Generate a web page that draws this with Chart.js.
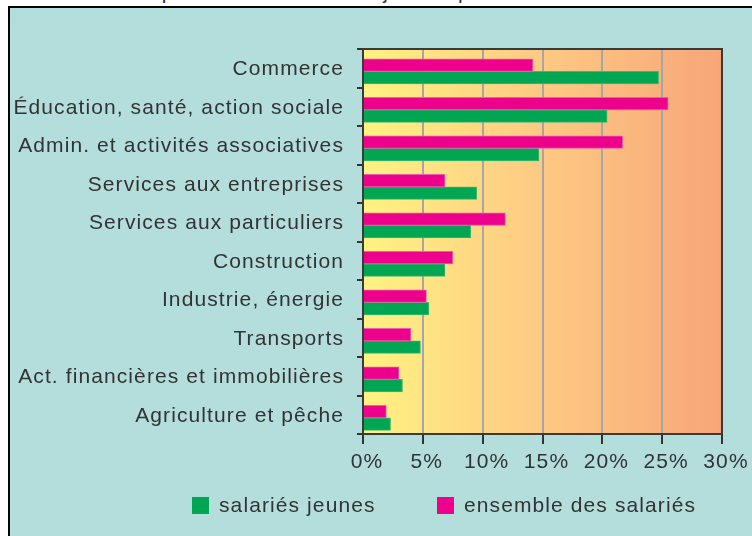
<!DOCTYPE html>
<html><head><meta charset="utf-8">
<script src="https://cdn.jsdelivr.net/npm/chart.js@4"></script>
<style>
html,body{margin:0;padding:0;background:#fff;}
body{width:752px;height:536px;position:relative;overflow:hidden;font-family:"Liberation Sans",Arial,sans-serif;}
#title{position:absolute;left:0;top:0;width:752px;height:6px;overflow:hidden;}
#title span{position:absolute;left:133px;top:-20px;font-size:21px;line-height:24px;color:#333;white-space:nowrap;letter-spacing:1px;}
#panel{position:absolute;left:8px;top:6px;right:-10px;bottom:-10px;background:#b3dedb;border-left:2px solid #000;border-top:2px solid #000;}
canvas{position:absolute;left:0;top:0;}
</style></head><body>
<div id="title"><span>Répartition des salariés jeunes par secteur d'activité</span></div>
<div id="panel"></div>
<canvas id="c" width="752" height="536"></canvas>
<script>
const categories = ['Commerce','Éducation, santé, action sociale','Admin. et activités associatives','Services aux entreprises','Services aux particuliers','Construction','Industrie, énergie','Transports','Act. financières et immobilières','Agriculture et pêche'];
const jeunes   = [24.7, 20.4, 14.7, 9.5, 9.0, 6.85, 5.5, 4.8, 3.3, 2.3];
const ensemble = [14.2, 25.5, 21.7, 6.85, 11.9, 7.5, 5.3, 4.0, 3.0, 1.95];
const xTicks = [0, 5, 10, 15, 20, 25, 30];
const seriesNames = ['salariés jeunes', 'ensemble des salariés'];

const FONT = '"Liberation Sans", Arial, sans-serif';
const LS = '1.1px';
const GREEN = '#00a651', PINK = '#ec008c';
const BAR_SHIFT = 0.08; // bars sit slightly below category centre

const spacing = {
  id:'spacing',
  beforeLayout(chart){ chart.ctx.letterSpacing = LS; },
  beforeDraw(chart){
    const ctx = chart.ctx; ctx.letterSpacing = LS;
    const a = chart.chartArea;
    const g = ctx.createLinearGradient(a.left,0,a.right,0);
    g.addColorStop(0,'#fff381'); g.addColorStop(0.45,'#fecd84'); g.addColorStop(1,'#f7a578');
    ctx.save(); ctx.fillStyle = g; ctx.fillRect(a.left,a.top,a.right-a.left,a.bottom-a.top); ctx.restore();
  },
  afterDatasetsDraw(chart){
    const ctx = chart.ctx, a = chart.chartArea;
    ctx.save(); ctx.strokeStyle = '#3a3a3a'; ctx.lineWidth = 2;
    ctx.strokeRect(a.left, a.top, a.right-a.left, a.bottom-a.top); ctx.restore();
  },
  afterDraw(chart){
    const ctx = chart.ctx;
    ctx.save(); ctx.letterSpacing = LS;
    ctx.font = '21px ' + FONT; ctx.textBaseline = 'middle'; ctx.textAlign = 'left';
    const items = [{t:seriesNames[0], c:GREEN, x:192}, {t:seriesNames[1], c:PINK, x:437}];
    items.forEach(it=>{
      ctx.fillStyle = it.c; ctx.fillRect(it.x, 497, 17, 17);
      ctx.fillStyle = '#333'; ctx.fillText(it.t, it.x + 27, 506);
    });
    ctx.restore();
  }
};

new Chart(document.getElementById('c'), {
  type:'bar',
  data:{
    labels: categories,
    datasets:[
      {label:seriesNames[1], data: ensemble.map((v,i)=>({x:v,y:i})), backgroundColor:PINK, borderColor:'#f35aa9', borderWidth:1, yAxisID:'yb', barThickness:12.5},
      {label:seriesNames[0], data: jeunes.map((v,i)=>({x:v,y:i})), backgroundColor:GREEN, borderColor:'#3cb872', borderWidth:1, yAxisID:'yb', barThickness:12.5}
    ]
  },
  options:{
    indexAxis:'y', responsive:false, animation:false, devicePixelRatio:1,
    layout:{padding:{left:0, top:49, right:30, bottom:52}},
    plugins:{legend:{display:false}, tooltip:{enabled:false}, title:{display:false}},
    scales:{
      x:{type:'linear', min:0, max:30, position:'bottom',
        afterBuildTicks(s){ s.ticks = xTicks.map(v=>({value:v})); },
        ticks:{callback:v=>v+'%', color:'#333', font:{family:FONT, size:21}, padding:6, labelOffset:4, maxRotation:0, autoSkip:false},
        grid:{color:'#a6a6a6', lineWidth:2, tickColor:'#333', tickLength:10, drawTicks:true},
        border:{display:true, color:'#333', width:2},
        afterFit(s){ s.height = 50; }
      },
      y:{type:'category', labels:categories, offset:true, position:'left',
        ticks:{color:'#333', font:{family:FONT, size:21}, padding:13, autoSkip:false, labelOffset:1},
        grid:{offset:true, drawOnChartArea:false, color:'#333', tickColor:'#333', lineWidth:2, tickLength:6},
        border:{display:true, color:'#333', width:2},
        afterFit(s){ s.width = 363; }
      },
      yb:{type:'linear', axis:'y', display:false, reverse:true, bounds:'data',
        min:-0.5-BAR_SHIFT, max:categories.length-0.5-BAR_SHIFT,
        afterBuildTicks(s){ s.ticks = []; },
        grid:{display:false}}
    }
  },
  plugins:[spacing]
});
</script>
</body></html>
